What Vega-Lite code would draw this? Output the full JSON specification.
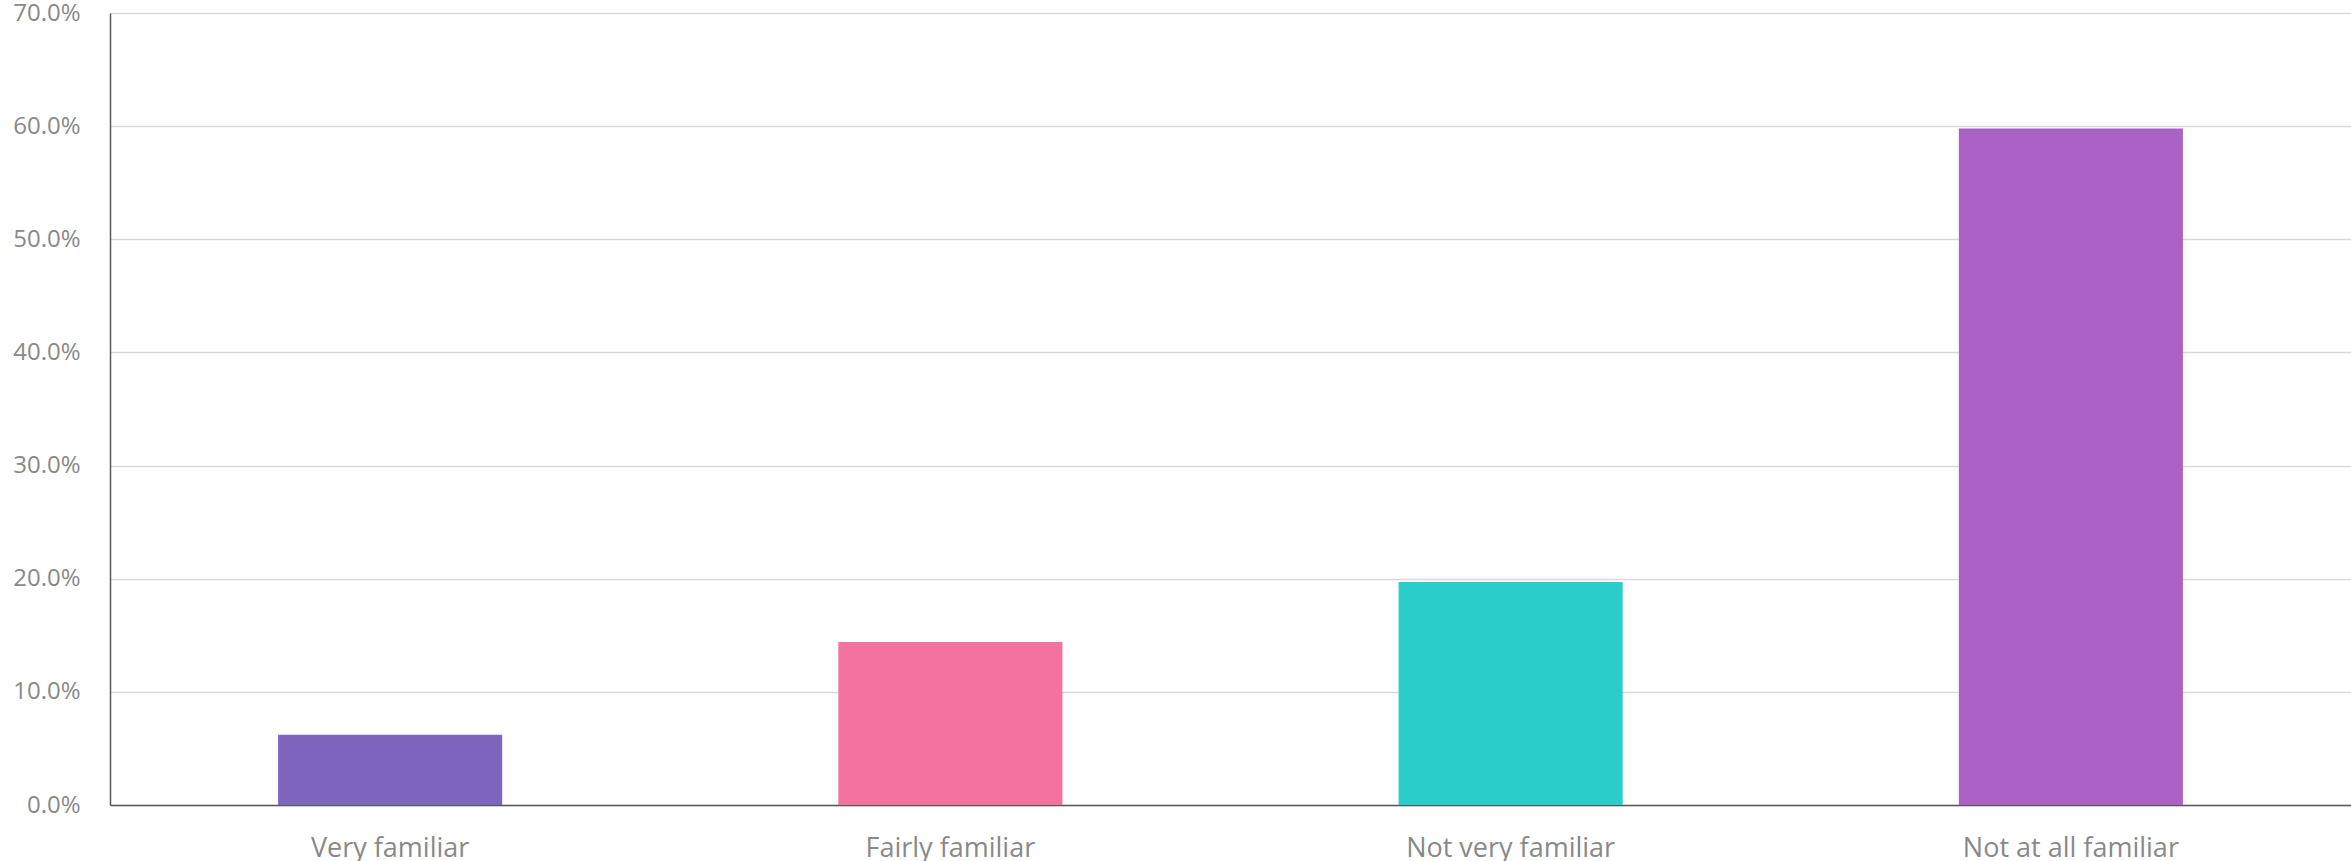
{
  "$schema": "https://vega.github.io/schema/vega-lite/v6.json",
  "autosize": {"type": "none"},
  "padding": {"left": 110, "top": 13, "right": 0, "bottom": 56},
  "width": 2241,
  "height": 792,
  "background": "white",
  "config": {"view": {"stroke": null}},
  "data": {"values": [
    {"category": "Very familiar", "value": 0.062, "color": "#7E66C0"},
    {"category": "Fairly familiar", "value": 0.144, "color": "#F273A0"},
    {"category": "Not very familiar", "value": 0.197, "color": "#2ACDC9"},
    {"category": "Not at all familiar", "value": 0.598, "color": "#AC62C4"}
  ]},
  "mark": {"type": "bar"},
  "encoding": {
    "x": {
      "field": "category", "type": "nominal", "sort": null,
      "scale": {"paddingInner": 0.6, "paddingOuter": 0.3},
      "axis": {
        "title": null, "labelAngle": 0, "labelFont": "Open Sans", "labelFontSize": 27,
        "labelColor": "#898989", "ticks": false, "labelPadding": 30, "labelLimit": 0,
        "domainColor": "#595959", "domainWidth": 1.5, "grid": false
      }
    },
    "y": {
      "field": "value", "type": "quantitative",
      "scale": {"domain": [0, 0.7], "nice": false},
      "axis": {
        "title": null, "format": ".1%", "values": [0, 0.1, 0.2, 0.3, 0.4, 0.5, 0.6, 0.7],
        "labelFont": "Open Sans", "labelFontSize": 24, "labelColor": "#898989",
        "ticks": false, "labelPadding": 30, "domainColor": "#595959", "domainWidth": 1.5,
        "gridColor": "#D9D9D9", "gridWidth": 1.5
      }
    },
    "color": {"field": "color", "type": "nominal", "scale": null, "legend": null}
  }
}
